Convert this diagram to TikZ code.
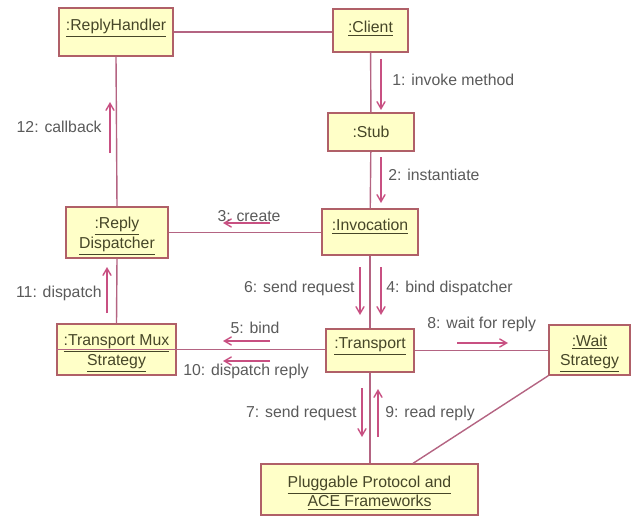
\documentclass[tikz,border=0pt]{standalone}
\usepackage{fontspec}
\setmainfont{Liberation Sans}
\usetikzlibrary{arrows}

\definecolor{objfill}{RGB}{255,255,200}
\definecolor{objline}{RGB}{176,96,104}
\definecolor{linkcol}{RGB}{180,100,130}
\definecolor{msgcol}{RGB}{200,80,130}
\definecolor{txtcol}{RGB}{90,90,90}
\definecolor{objtxt}{RGB}{70,70,40}

\begin{document}
\begin{tikzpicture}[x=0.02cm, y=-0.02cm,
    font=\fontsize{9}{11.3}\selectfont,
    obj/.style={draw=objline, fill=objfill, line width=0.8pt, text=objtxt, align=center, inner sep=1pt},
    twoline/.style={text height=22pt},
    link/.style={draw=linkcol, line width=0.8pt},
    msg/.style={->, >=angle 60, draw=msgcol, line width=0.8pt},
    lbl/.style={text=txtcol, inner sep=0pt, text height=6.5pt, text depth=2pt}]
    \useasboundingbox (0,0) rectangle (632,517);

    % the objects
    \node [obj, minimum width=2.28cm, minimum height=0.96cm, text depth=8pt] (rh) at (116,32) {\underline{:ReplyHandler}};
    \node [obj, minimum width=1.5cm, minimum height=0.86cm, text depth=4pt] (client) at (370.5,30.5) {\underline{:Client}};
    \node [obj, minimum width=1.72cm, minimum height=0.76cm] (stub) at (371,132) {:Stub};
    \node [obj, minimum width=1.92cm, minimum height=0.92cm, text depth=8pt] (inv) at (370,232) {\underline{:Invocation}};
    \node [obj, twoline, minimum width=2.04cm, minimum height=1.02cm] (disp) at (117,232.5) {\underline{:Reply}\\\underline{Dispatcher}};
    \node [obj, twoline, minimum width=2.38cm, minimum height=1.02cm] (mux) at (116.5,349.5) {\underline{:Transport Mux}\\\underline{Strategy}};
    \node [obj, minimum width=1.76cm, minimum height=0.86cm, text depth=8pt] (tr) at (370,350.5) {\underline{:Transport}};
    \node [obj, twoline, minimum width=1.62cm, minimum height=1.0cm] (wait) at (589.5,350) {\underline{:Wait}\\\underline{Strategy}};
    \node [obj, twoline, minimum width=4.34cm, minimum height=1.02cm] (plug) at (369.5,489.5) {\underline{Pluggable Protocol and}\\\underline{ACE Frameworks}};

    % links between them
    \draw [link] (rh.east) -- (rh.east -| client.west);
    \draw [link] (client) -- (stub);
    \draw [link] (stub) -- (inv);
    \draw [link] (rh.south) -- (disp.north);
    \draw [link] (disp.east) -- (disp.east -| inv.west);
    \draw [link] (disp.south) -- (mux.north);
    \draw [link] (inv) -- (tr);
    \draw [link] (mux.west) -- (mux.west -| tr.west); % runs through the box
    \draw [link] (tr.east) -- (tr.east -| wait.west);
    \draw [link] (tr.south) -- (tr.south |- plug.north);
    \draw [link] (wait.south west) -- (plug.31);

    % messages
    \draw [msg] (381,59) -- (381,110);
    \node [lbl, right] at (392,82) {1: invoke method};
    \draw [msg] (381,157) -- (381,203);
    \node [lbl, right] at (388,177) {2: instantiate};
    \draw [msg] (270,223) -- (223,223);
    \node [lbl] at (249,218) {3: create};
    \draw [msg] (381,267) -- (381,315);
    \node [lbl, right] at (386,289) {4: bind dispatcher};
    \draw [msg] (270,341) -- (223,341);
    \node [lbl] at (255,330) {5: bind};
    \draw [msg] (360,267) -- (360,315);
    \node [lbl, left] at (355,289) {6: send request};
    \draw [msg] (362,388) -- (362,437);
    \node [lbl, left] at (357,414) {7: send request};
    \draw [msg] (457,343) -- (508,343);
    \node [lbl, right] at (427,325) {8: wait for reply};
    \draw [msg] (378,437) -- (378,389);
    \node [lbl, right] at (385,414) {9: read reply};
    \draw [msg] (270,361) -- (223,361);
    \node [lbl, right] at (183,372) {10: dispatch reply};
    \draw [msg] (107,313) -- (107,267);
    \node [lbl, left] at (102,294) {11: dispatch};
    \draw [msg] (110,153) -- (110,102);
    \node [lbl, left] at (102,129) {12: callback};
\end{tikzpicture}
\end{document}
